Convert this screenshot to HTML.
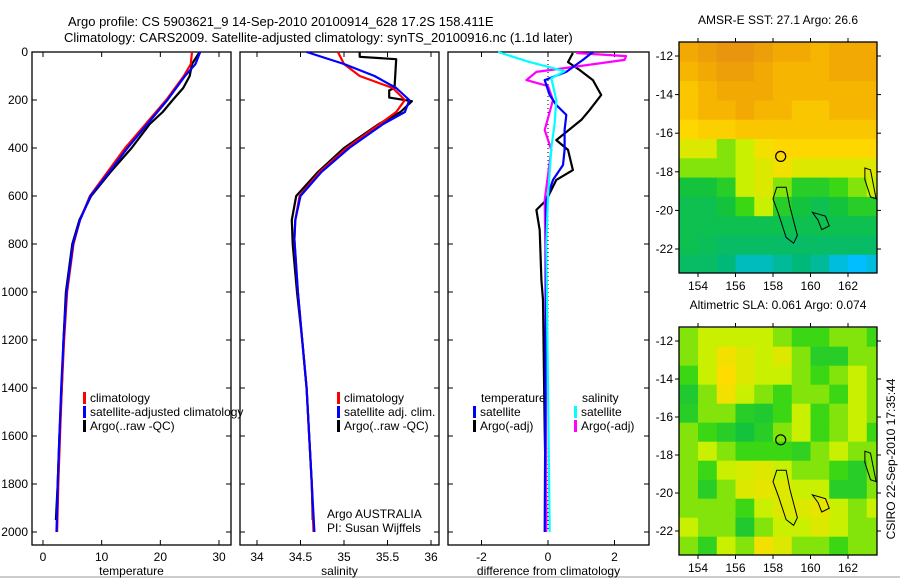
<!DOCTYPE html>
<html><head><meta charset="utf-8"><style>
html,body{margin:0;padding:0;background:#fff;}
svg{display:block;font-family:"Liberation Sans",sans-serif;}
</style></head><body>
<svg id="fig" width="900" height="580" viewBox="0 0 900 580" xmlns="http://www.w3.org/2000/svg">
<rect x="0" y="0" width="900" height="580" fill="#fff"/>
<line x1="0" y1="577" x2="900" y2="577" stroke="#ccc" stroke-width="2"/>
<text x="68" y="26" font-size="13">Argo profile: CS 5903621_9 14-Sep-2010 20100914_628 17.2S 158.411E</text>
<text x="64" y="42" font-size="13">Climatology: CARS2009. Satellite-adjusted climatology: synTS_20100916.nc (1.1d later)</text>
<g id="plots"></g>
<text transform="translate(895,459) rotate(-90)" text-anchor="middle" font-size="12">CSIRO 22-Sep-2010 17:35:44</text>
</svg>
<script>
// ---------- data ----------
const depthTicks=[0,200,400,600,800,1000,1200,1400,1600,1800,2000];
const tempTicks=[0,10,20,30];
const salTicks=[34,34.5,35,35.5,36];
const salTickLabels=["34","34.5","35","35.5","36"];
const diffTicks=[-2,0,2];
const diffTickLabels=["-2","0","2"];

const tClimDepth=[0,50,100,200,300,400,500,600,700,800,1000,1200,1400,1600,1800,2000];
const tClim=[25.4,25.2,24,21,17.5,14,11,8,6.3,5.2,4.1,3.6,3.2,2.9,2.6,2.4];
const tSat=[26.8,26,24.2,21.2,17.8,14.4,11.3,8.1,6.3,5.1,4.0,3.5,3.1,2.8,2.5,2.3];
const tArgoDepth=[0,50,100,150,200,250,300,400,500,600,700,800,1000,1200,1400,1600,1800,1950];
const tArgo=[26.7,25.4,25,23.9,22.1,20.4,18.2,15.1,11.5,8.2,6.2,5.0,3.9,3.5,3.2,2.8,2.5,2.2];

const sClimDepth=[0,50,100,150,200,250,300,400,500,600,700,780,1000,1200,1400,1600,1800,2000];
const sClim=[34.93,35.0,35.18,35.56,35.7,35.6,35.41,35.03,34.72,34.49,34.44,34.43,34.47,34.52,34.57,34.6,34.63,34.65];
const sSat=[34.57,35.0,35.35,35.6,35.75,35.7,35.45,35.06,34.74,34.5,34.44,34.43,34.47,34.52,34.57,34.6,34.63,34.66];
const sArgoDepth=[0,20,30,150,160,190,205,250,300,400,500,600,700,800,1000,1200,1400,1600,1800,1950];
const sArgo=[35.18,35.18,35.6,35.58,35.52,35.52,35.78,35.65,35.4,35.0,34.7,34.45,34.40,34.41,34.46,34.52,34.57,34.6,34.63,34.64];

const dSalSatDepth=[0,40,80,110,200,300,400,500,600,800,2000];
const dSalSat=[-1.5,-0.6,0.5,0.1,0.25,0.2,0.1,0.05,0,-0.05,0.05];
const dTempSatDepth=[0,33,83,117,179,221,262,325,408,471,533,617,2000];
const dTempSat=[1.35,1.05,0.55,-0.1,0.05,0.25,0.55,0.5,0.5,0.45,0.15,-0.05,-0.1];
const dSalArgoDepth=[4,17,33,58,83,117,142,200,325,408,513,617,825,2000];
const dSalArgo=[0.85,2.35,2.3,1.0,-0.35,-0.65,0,0.15,-0.1,0.1,0,-0.1,-0.08,-0.05];
const dTempArgoDepth=[4,42,75,117,179,242,283,367,408,492,533,617,658,742,950,1033,1575,1950];
const dTempArgo=[0.75,0.6,0.95,1.35,1.6,1.25,1.0,0.25,0.6,0.75,0.25,-0.05,-0.35,-0.25,-0.2,-0.15,-0.1,-0.05];

const lonTicks=[154,156,158,160,162];
const latTicks=[-12,-14,-16,-18,-20,-22];
const mapLons=[153,154,155,156,157,158,159,160,161,162,163];
const mapLats=[-11.3,-12.3,-13.3,-14.3,-15.3,-16.3,-17.3,-18.3,-19.3,-20.3,-21.3,-22.3];
const sstGrid=[
[0.85,0.9,0.95,0.95,0.9,0.85,0.85,0.8,0.85,0.85,0.85],
[0.8,0.85,0.9,0.9,0.85,0.8,0.8,0.8,0.85,0.85,0.85],
[0.75,0.8,0.85,0.85,0.85,0.8,0.8,0.8,0.8,0.8,0.8],
[0.75,0.8,0.8,0.85,0.8,0.8,0.75,0.75,0.8,0.8,0.8],
[0.7,0.72,0.72,0.75,0.75,0.75,0.75,0.75,0.75,0.75,0.75],
[0.6,0.6,0.5,0.55,0.65,0.7,0.7,0.7,0.7,0.7,0.7],
[0.5,0.5,0.5,0.55,0.6,0.65,0.6,0.6,0.6,0.6,0.6],
[0.35,0.35,0.4,0.55,0.6,0.5,0.4,0.4,0.45,0.5,0.55],
[0.3,0.3,0.35,0.45,0.55,0.4,0.35,0.3,0.35,0.4,0.4],
[0.3,0.3,0.3,0.3,0.3,0.3,0.3,0.3,0.3,0.3,0.3],
[0.3,0.28,0.25,0.25,0.25,0.25,0.25,0.25,0.25,0.25,0.25],
[0.25,0.25,0.2,0.1,0.1,0.15,0.2,0.15,0.05,0.0,0.05]];
const slaGrid=[
[0.5,0.55,0.55,0.55,0.55,0.5,0.45,0.45,0.5,0.5,0.45],
[0.5,0.55,0.65,0.6,0.55,0.6,0.5,0.4,0.4,0.5,0.5],
[0.45,0.55,0.68,0.6,0.55,0.55,0.5,0.45,0.5,0.55,0.5],
[0.38,0.5,0.65,0.55,0.5,0.45,0.5,0.5,0.45,0.55,0.5],
[0.4,0.5,0.5,0.4,0.38,0.45,0.55,0.45,0.5,0.55,0.5],
[0.5,0.45,0.4,0.35,0.4,0.5,0.55,0.45,0.5,0.55,0.45],
[0.5,0.55,0.5,0.45,0.45,0.45,0.42,0.5,0.55,0.5,0.5],
[0.5,0.45,0.55,0.58,0.6,0.55,0.5,0.5,0.45,0.4,0.5],
[0.5,0.4,0.5,0.6,0.62,0.6,0.55,0.55,0.4,0.4,0.5],
[0.5,0.5,0.5,0.45,0.55,0.6,0.6,0.62,0.55,0.5,0.55],
[0.55,0.5,0.5,0.38,0.5,0.55,0.55,0.6,0.55,0.5,0.5],
[0.5,0.42,0.55,0.5,0.65,0.6,0.5,0.5,0.45,0.5,0.5]];
const argoLon=158.41, argoLat=-17.2;

// ---------- drawing ----------
const NS="http://www.w3.org/2000/svg";
const root=document.getElementById('plots');
function mk(tag,attrs,parent){const e=document.createElementNS(NS,tag);for(const k in attrs)e.setAttribute(k,attrs[k]);(parent||root).appendChild(e);return e;}
function txt(x,y,s,size,anchor,parent){const t=mk('text',{x:x,y:y,'font-size':size,'text-anchor':anchor||'start'},parent);t.textContent=s;return t;}

const Y0=52,Y1=532;
const yD=d=>Y0+(d/2000)*(Y1-Y0);

function panel(name,x0,x1,xs,ticks,labels,xlabel,showY){
  const g=mk('g',{});
  
  
  const f=mk('rect',{x:x0,y:Y0,width:x1-x0,height:545-Y0,fill:'none',stroke:'#000','stroke-width':1.3},g);
  
  
  depthTicks.forEach(d=>{
    mk('line',{x1:x0,x2:x0+5,y1:yD(d),y2:yD(d),stroke:'#000'},g);
    mk('line',{x1:x1,x2:x1-5,y1:yD(d),y2:yD(d),stroke:'#000'},g);
    if(showY){const t=txt(x0-4,yD(d)+4,String(d),12,'end',g);
      
      }
  });
  ticks.forEach((v,i)=>{
    const x=xs(v);
    mk('line',{x1:x,x2:x,y1:545,y2:540,stroke:'#000'},g);
    mk('line',{x1:x,x2:x,y1:Y0,y2:Y0+5,stroke:'#000'},g);
    const t=txt(x,561,labels[i],12,'middle',g);
    
    
  });
  const xl=txt((x0+x1)/2,575,xlabel,12,'middle',g);
  
  
  return g;
}
function line(g,xs,vals,depths,color,name,w){
  const pts=vals.map((v,i)=>xs(v).toFixed(1)+','+yD(depths[i]).toFixed(1)).join(' ');
  const p=mk('polyline',{points:pts,fill:'none',stroke:color,'stroke-width':w||2.2,'stroke-linejoin':'round'},g);
  
  
}
function legend(g,x,y,color,label,name){
  const r=mk('rect',{x:x,y:y-10,width:3,height:12,fill:color},g);
  
  
  const t=txt(x+7,y,label,12,'start',g);
  
  
}

// Panel 1 temperature
const xT=v=>43+v*(219-43)/30;
const g1=panel('temperature-panel',32,231,xT,tempTicks,tempTicks.map(String),'temperature',true);
line(g1,xT,tArgo,tArgoDepth,'#000','temp-argo-line');
line(g1,xT,tClim,tClimDepth,'#f00','temp-climatology-line');
line(g1,xT,tSat,tClimDepth,'#00f','temp-satellite-line');
legend(g1,83,402,'#f00','climatology','legend-climatology');
legend(g1,83,416,'#00f','satellite-adjusted climatology','legend-satellite-adjusted');
legend(g1,83,430,'#000','Argo(..raw -QC)','legend-argo');

// Panel 2 salinity
const xS=v=>257+(v-34)*(431-257)/2;
const g2=panel('salinity-panel',240,439,xS,salTicks,salTickLabels,'salinity',false);
line(g2,xS,sArgo,sArgoDepth,'#000','sal-argo-line');
line(g2,xS,sClim,sClimDepth,'#f00','sal-climatology-line');
line(g2,xS,sSat,sClimDepth,'#00f','sal-satellite-line');
legend(g2,337,402,'#f00','climatology','legend-climatology-2');
legend(g2,337,416,'#00f','satellite adj. clim.','legend-satellite-2');
legend(g2,337,430,'#000','Argo(..raw -QC)','legend-argo-2');
const a1=txt(327,518,'Argo AUSTRALIA',12,'start',g2);


const a2=txt(327,532,'PI: Susan Wijffels',12,'start',g2);



// Panel 3 differences
const xDf=v=>548+v*(614-481)/4;
const g3=panel('difference-panel',448,649,xDf,diffTicks,diffTickLabels,'difference from climatology',false);
mk('line',{x1:xDf(0),x2:xDf(0),y1:Y0,y2:Y1,stroke:'#000','stroke-dasharray':'1,3'},g3);
line(g3,xDf,dTempArgo,dTempArgoDepth,'#000','temp-argo-diff-line');
line(g3,xDf,dSalArgo,dSalArgoDepth,'#f0f','sal-argo-diff-line');
line(g3,xDf,dTempSat,dTempSatDepth,'#00f','temp-satellite-diff-line');
line(g3,xDf,dSalSat,dSalSatDepth,'#0ff','sal-satellite-diff-line');
const lt=txt(481,402,'temperature',12,'start',g3);


const ls=txt(582,402,'salinity',12,'start',g3);


legend(g3,473,416,'#00f','satellite','legend-temp-satellite');
legend(g3,473,430,'#000','Argo(-adj)','legend-temp-argo');
legend(g3,574,416,'#0ff','satellite','legend-sal-satellite');
legend(g3,574,430,'#f0f','Argo(-adj)','legend-sal-argo');

// Maps
const stops=[[0,[0,190,255]],[0.2,[0,185,120]],[0.35,[20,195,60]],[0.45,[60,215,20]],[0.55,[200,240,0]],[0.68,[255,220,0]],[0.82,[245,175,0]],[1,[228,140,20]]];
function cmap(v){for(let i=1;i<stops.length;i++){if(v<=stops[i][0]){const a=stops[i-1],b=stops[i],t=(v-a[0])/(b[0]-a[0]);
  return 'rgb('+a[1].map((c,k)=>Math.round(c+(b[1][k]-c)*t)).join(',')+')';}}return 'rgb(228,140,20)';}
function map(name,top,bot,title,grid){
  const x0=679,x1=877;
  const lonX=l=>698+(l-154)*(848-698)/8;
  const latY=l=>top+14+(-12-l)*((bot-top-38)/10)*1; // -12 near top, -22 near bottom
  const g=mk('g',{});
  
  
  const tt=txt((x0+x1)/2,top-18,title,12,'middle',g);
  
  
  const cw=lonX(1)-lonX(0), ch=latY(-1)-latY(0);
  grid.forEach((row,r)=>row.forEach((v,c)=>{
    const x=lonX(mapLons[c]), y=latY(mapLats[r]);
    const cx=Math.max(x,x0), cy=Math.max(y,top);
    const w=Math.min(x+cw,x1)-cx, h=Math.min(y+ch,bot)-cy;
    if(w>0&&h>0){const cell=mk('rect',{x:cx,y:cy,width:w+0.5,height:h+0.5,fill:cmap(v)},g);
      
      }
  }));
  // coastline-like contours
  const isl=[[158.2,-18.8],[158.7,-18.8],[158.9,-19.8],[159.3,-21.3],[159.1,-21.7],[158.7,-21.4],[158.3,-20.2],[158.0,-19.4]];
  const p=mk('polygon',{points:isl.map(q=>lonX(q[0])+','+latY(q[1])).join(' '),fill:'none',stroke:'#000','stroke-width':1},g);
  
  const isl2=[[160.1,-20.1],[160.8,-20.3],[161.0,-20.8],[160.6,-21.0],[160.4,-20.5]];
  const p2=mk('polygon',{points:isl2.map(q=>lonX(q[0])+','+latY(q[1])).join(' '),fill:'none',stroke:'#000','stroke-width':1},g);
  
  const isl3=[[162.9,-17.8],[163.2,-17.9],[163.5,-19.4],[163.2,-19.3],[162.9,-18.4]];
  const p3=mk('polygon',{points:isl3.map(q=>lonX(q[0])+','+latY(q[1])).join(' '),fill:'none',stroke:'#000','stroke-width':1},g);
  
  const c=mk('circle',{cx:lonX(argoLon),cy:latY(argoLat),r:5,fill:'none',stroke:'#000','stroke-width':1.2},g);
  
  
  mk('rect',{x:x0,y:top,width:x1-x0,height:bot-top,fill:'none',stroke:'#000','stroke-width':1.3},g);
  latTicks.forEach(l=>{
    const y=latY(l);
    mk('line',{x1:x0-4,x2:x0,y1:y,y2:y,stroke:'#000'},g);
    mk('line',{x1:x1,x2:x1+4,y1:y,y2:y,stroke:'#000'},g);
    const t=txt(x0-6,y+4,String(l),12,'end',g);
    
    
  });
  lonTicks.forEach(l=>{
    const x=lonX(l);
    mk('line',{x1:x,x2:x,y1:bot,y2:bot+4,stroke:'#000'},g);
    mk('line',{x1:x,x2:x,y1:top-4,y2:top,stroke:'#000'},g);
    const t=txt(x,bot+17,String(l),12,'middle',g);
    
    
  });
}
map('sst-map',42,273,'AMSR-E SST: 27.1 Argo: 26.6',sstGrid);
map('sla-map',327,555,'Altimetric SLA: 0.061 Argo: 0.074',slaGrid);
</script>
</body></html>
